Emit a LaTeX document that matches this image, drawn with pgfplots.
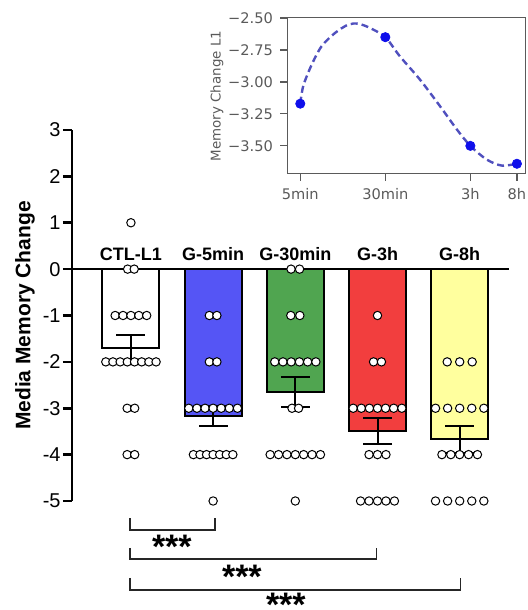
\documentclass[border=0pt]{standalone}
\usepackage{fontspec}
\setmainfont{Liberation Sans}
\newfontfamily\dejavu{DejaVu Sans}
\usepackage{pgfplots}
\pgfplotsset{compat=1.18}

\definecolor{barblue}{RGB}{85,85,245}
\definecolor{bargreen}{RGB}{80,165,80}
\definecolor{barred}{RGB}{242,62,62}
\definecolor{baryellow}{RGB}{255,255,158}
\definecolor{dotblue}{RGB}{15,15,235}
\definecolor{curveblue}{RGB}{80,80,190}
\definecolor{insetgray}{RGB}{90,90,90}

\begin{document}
\begin{tikzpicture}
\useasboundingbox (-36pt,-54.5pt) rectangle (228pt,250.5pt);

% main bar chart
\begin{axis}[
    at={(0,0)}, anchor=south west,
    scale only axis, width=218.5pt, height=185.5pt,
    xmin=-0.717, xmax=4.6, ymin=-5, ymax=3,
    axis y line=left, axis x line=middle,
    axis line style={-, line width=1.3pt, black},
    clip=false,
    ytick={-5,...,3},
    xtick=\empty,
    tick align=outside,
    major tick length=4.5pt,
    tick style={line width=1.3pt, black},
    yticklabel style={font=\fontsize{10}{12}\selectfont, inner sep=1pt},
    /pgf/number format/assume math mode=true,
    ylabel={\bfseries Media Memory Change},
    ylabel style={at={(axis description cs:-0.1076,0.5)}, anchor=center,
        font=\fontsize{10.5}{12}\selectfont},
]
% bars (means)
\addplot[ybar, bar width=28.5pt, bar shift=0pt, fill=white, draw=black, line width=1pt] coordinates {(0,-1.70)};
\addplot[ybar, bar width=28.5pt, bar shift=0pt, fill=barblue, draw=black, line width=1pt] coordinates {(1,-3.17)};
\addplot[ybar, bar width=28.5pt, bar shift=0pt, fill=bargreen, draw=black, line width=1pt] coordinates {(2,-2.65)};
\addplot[ybar, bar width=28.5pt, bar shift=0pt, fill=barred, draw=black, line width=1pt] coordinates {(3,-3.50)};
\addplot[ybar, bar width=28.5pt, bar shift=0pt, fill=baryellow, draw=black, line width=1pt] coordinates {(4,-3.67)};

% individual values
\addplot[only marks, mark=*, mark size=2.1pt, mark options={fill=white, draw=black, line width=0.5pt}] coordinates {
  (0,1)
  (-0.04,0) (0.04,0)
  (-0.192,-1) (-0.096,-1) (0,-1) (0.096,-1) (0.192,-1)
  (-0.306,-2) (-0.219,-2) (-0.131,-2) (-0.044,-2) (0.044,-2) (0.131,-2) (0.219,-2) (0.306,-2)
  (-0.046,-3) (0.046,-3)
  (-0.046,-4) (0.046,-4)
};
\addplot[only marks, mark=*, mark size=2.1pt, mark options={fill=white, draw=black, line width=0.5pt}] coordinates {
  (0.954,-1) (1.046,-1)
  (0.954,-2) (1.046,-2)
  (0.704,-3) (0.803,-3) (0.902,-3) (1,-3) (1.098,-3) (1.197,-3) (1.296,-3)
  (0.76,-4) (0.84,-4) (0.92,-4) (1,-4) (1.08,-4) (1.16,-4) (1.24,-4)
  (1,-5)
};
\addplot[only marks, mark=*, mark size=2.1pt, mark options={fill=white, draw=black, line width=0.5pt}] coordinates {
  (1.948,0) (2.052,0)
  (1.945,-1) (2.055,-1)
  (1.75,-2) (1.85,-2) (1.95,-2) (2.05,-2) (2.15,-2) (2.25,-2)
  (1.96,-3) (2.04,-3)
  (1.694,-4) (1.796,-4) (1.898,-4) (2,-4) (2.102,-4) (2.204,-4) (2.306,-4)
  (2,-5)
};
\addplot[only marks, mark=*, mark size=2.1pt, mark options={fill=white, draw=black, line width=0.5pt}] coordinates {
  (3,-1)
  (2.952,-2) (3.048,-2)
  (2.704,-3) (2.803,-3) (2.902,-3) (3,-3) (3.098,-3) (3.197,-3) (3.296,-3)
  (2.897,-4) (3,-4) (3.103,-4)
  (2.794,-5) (2.897,-5) (3,-5) (3.103,-5) (3.206,-5)
};
\addplot[only marks, mark=*, mark size=2.1pt, mark options={fill=white, draw=black, line width=0.5pt}] coordinates {
  (3.848,-2) (4,-2) (4.152,-2)
  (3.706,-3) (3.853,-3) (4,-3) (4.147,-3) (4.294,-3)
  (3.784,-4) (3.892,-4) (4,-4) (4.108,-4) (4.216,-4)
  (3.706,-5) (3.853,-5) (4,-5) (4.147,-5) (4.294,-5)
};

% SEM
\addplot[draw=none, mark=none,
  error bars/.cd, y dir=both, y explicit,
  error bar style={draw=black, solid, line width=1pt},
  error mark options={draw=black, rotate=90, mark size=7.25pt, line width=1pt}]
  coordinates {
  (0,-1.70) +- (0,0.28)
  (1,-3.17) +- (0,0.21)
  (2,-2.65) +- (0,0.33)
  (3,-3.50) +- (0,0.28)
  (4,-3.67) +- (0,0.29)
};

% group names
\node[font=\bfseries\fontsize{9}{10}\selectfont, anchor=base] at (axis cs:0,0.19) {CTL-L1};
\node[font=\bfseries\fontsize{9}{10}\selectfont, anchor=base] at (axis cs:1,0.19) {G-5min};
\node[font=\bfseries\fontsize{9}{10}\selectfont, anchor=base] at (axis cs:2,0.19) {G-30min};
\node[font=\bfseries\fontsize{9}{10}\selectfont, anchor=base] at (axis cs:3,0.19) {G-3h};
\node[font=\bfseries\fontsize{9}{10}\selectfont, anchor=base] at (axis cs:4,0.19) {G-8h};

% significance brackets
\addplot[black!85, line width=0.75pt, mark=none] coordinates {(-0.012,-5.37) (-0.012,-5.62) (1.02,-5.62) (1.02,-5.37)};
\addplot[black!85, line width=0.75pt, mark=none] coordinates {(-0.012,-6.01) (-0.012,-6.25) (2.99,-6.25) (2.99,-6.01)};
\addplot[black!85, line width=0.75pt, mark=none] coordinates {(-0.012,-6.66) (-0.012,-6.92) (4.01,-6.92) (4.01,-6.66)};
\node[font=\bfseries\fontsize{17}{18}\selectfont, anchor=base] at (axis cs:0.498,-6.23) {***};
\node[font=\bfseries\fontsize{17}{18}\selectfont, anchor=base] at (axis cs:1.35,-6.88) {***};
\node[font=\bfseries\fontsize{17}{18}\selectfont, anchor=base] at (axis cs:1.885,-7.50) {***};
\end{axis}

% inset: mean change over time
\begin{axis}[
    at={(107.5pt,163.5pt)}, anchor=south west,
    scale only axis, width=119pt, height=78pt,
    xmode=log, xmin=3.78, xmax=569, ymin=-3.72, ymax=-2.5,
    axis line style={insetgray, line width=0.5pt},
    xtick={5,30,180,480}, xticklabels={5min,30min,3h,8h},
    ytick={-3.5,-3.25,-3,-2.75,-2.5},
    yticklabels={−3.50,−3.25,−3.00,−2.75,−2.50},
    minor tick num=0, minor tick length=0pt,
    tick align=outside, tick pos=left,
    major tick length=3.5pt,
    tick style={insetgray, line width=0.6pt},
    ticklabel style={font=\dejavu\fontsize{7.3}{8}\selectfont, text=insetgray},
    ylabel={Memory Change L1},
    ylabel style={at={(axis description cs:-0.294,0.5)}, anchor=center,
        font=\dejavu\fontsize{6.7}{8}\selectfont, text=insetgray},
]
\addplot[curveblue, line width=1.2pt, dash pattern=on 3.5pt off 2pt, smooth, mark=none] coordinates {
  (5,-3.17) (5.33,-3.03) (6.36,-2.865) (7.85,-2.72) (10.4,-2.617) (13.7,-2.552)
  (17,-2.545) (21.7,-2.578) (30,-2.65) (40.8,-2.80) (62,-2.98) (95,-3.19)
  (135,-3.37) (180,-3.50) (254,-3.607) (348,-3.654) (480,-3.64)
};
\addplot[only marks, mark=*, mark size=2.3pt, dotblue] coordinates {
  (5,-3.17) (30,-2.65) (180,-3.50) (480,-3.64)
};
\end{axis}
\end{tikzpicture}
\end{document}
